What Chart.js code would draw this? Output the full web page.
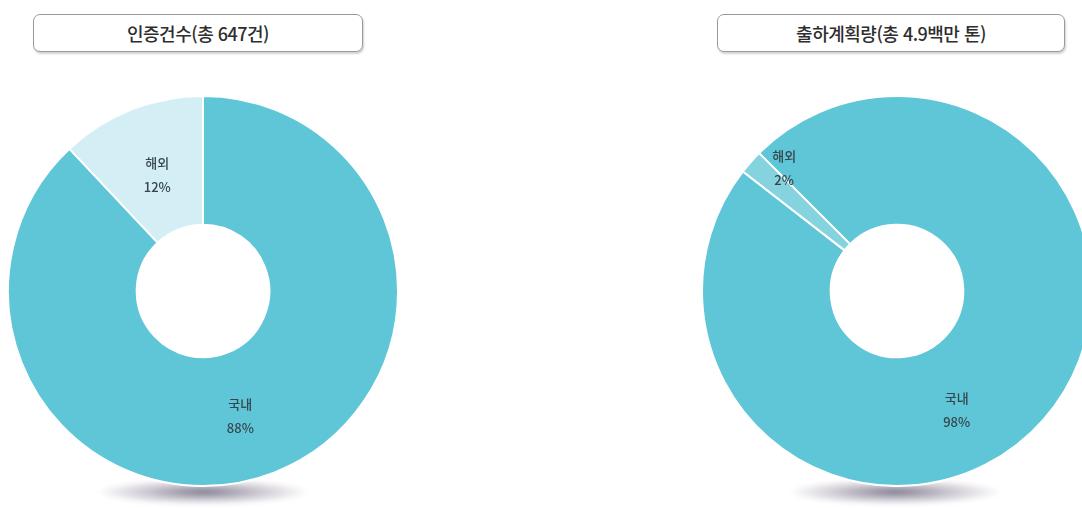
<!DOCTYPE html>
<html lang="ko">
<head>
<meta charset="utf-8">
<script src="https://cdn.jsdelivr.net/npm/chart.js@4"></script>
<style>
  html, body { margin: 0; padding: 0; background: #fff; width: 1082px; height: 508px; overflow: hidden; }
  body { position: relative; font-family: "Noto Sans CJK KR", "Noto Sans", sans-serif; }
  .title {
    position: absolute; top: 14px; height: 36px;
    border: 1.5px solid #9a9a9a; border-radius: 7px;
    box-shadow: 1px 2px 2px rgba(0,0,0,0.18);
    display: flex; align-items: center; justify-content: center;
    font-size: 18px; font-weight: 500; color: #2e2e2e; letter-spacing: -0.5px; background: #fff;
  }
  .shadow {
    position: absolute; height: 26px; border-radius: 50%;
    background: radial-gradient(ellipse at center, rgba(90,85,110,0.75) 0%, rgba(150,140,160,0.45) 40%, rgba(255,255,255,0) 72%);
    filter: blur(2px);
  }
  .wrap { position: absolute; }
</style>
</head>
<body>
<div class="title" id="t1" style="left:33px; width:328px;"></div>
<div class="title" id="t2" style="left:717px; width:346px;"></div>

<div class="shadow" style="left:98px; top:479px; width:210px;"></div>
<div class="shadow" style="left:790px; top:479px; width:210px;"></div>

<div class="wrap" style="left:7px; top:95px;"><canvas id="c1" width="392" height="392"></canvas></div>
<div class="wrap" style="left:701px; top:95px;"><canvas id="c2" width="392" height="392"></canvas></div>

<script>
// Share of certifications by region
const certTitle = '인증건수(총 647건)';
const certLabels = ['국내', '해외'];
const certValues = [88, 12];

// Share of planned shipment volume by region
const shipTitle = '출하계획량(총 4.9백만 톤)';
const shipLabels = ['국내', '해외'];
const shipValues = [98, 2];

document.getElementById('t1').textContent = certTitle;
document.getElementById('t2').textContent = shipTitle;

// Writes "label" and "value%" inside each slice
const sliceLabels = {
  id: 'sliceLabels',
  afterDatasetsDraw(chart, args, opts) {
    const ctx = chart.ctx;
    const ds = chart.data.datasets[0];
    const meta = chart.getDatasetMeta(0);
    const shift = opts.angleShift || [];
    const radial = opts.radial || [];
    meta.data.forEach((arc, i) => {
      const p = arc.getProps(['x', 'y', 'startAngle', 'endAngle', 'innerRadius', 'outerRadius'], true);
      const a = (p.startAngle + p.endAngle) / 2 + (shift[i] || 0) * Math.PI / 180;
      const r = p.innerRadius + (p.outerRadius - p.innerRadius) * (radial[i] || 0.5);
      const x = p.x + Math.cos(a) * r;
      const y = p.y + Math.sin(a) * r;
      ctx.save();
      ctx.fillStyle = '#36464c';
      ctx.font = '500 13px "Noto Sans CJK KR", sans-serif';
      ctx.textAlign = 'center';
      ctx.textBaseline = 'middle';
      ctx.fillText(chart.data.labels[i], x, y - 12);
      ctx.fillText(ds.data[i] + '%', x, y + 12);
      ctx.restore();
    });
  }
};

function donut(id, labels, values, colors, rotation, labelOpts) {
  return new Chart(document.getElementById(id), {
    type: 'doughnut',
    data: {
      labels: labels,
      datasets: [{
        data: values,
        backgroundColor: colors,
        borderColor: '#ffffff',
        borderWidth: 2
      }]
    },
    options: {
      responsive: false,
      animation: false,
      cutout: '34%',
      rotation: rotation,
      layout: { padding: 0 },
      plugins: {
        legend: { display: false },
        tooltip: { enabled: false },
        sliceLabels: labelOpts
      }
    },
    plugins: [sliceLabels]
  });
}

donut('c1', certLabels, certValues, ['#5ec6d6', '#d4eef6'], 0, { angleShift: [5, 0], radial: [0.5, 0.45] });
donut('c2', shipLabels, shipValues, ['#5ec6d6', '#86d3e0'], -45, { angleShift: [22, 6], radial: [0.52, 0.78] });
</script>
</body>
</html>
